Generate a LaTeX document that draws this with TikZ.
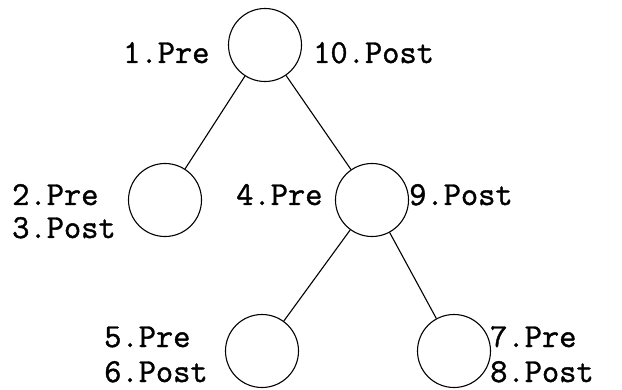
\documentclass[tikz,border=0pt]{standalone}
\usepackage{fontspec}
\newfontfamily\lblfont[FakeBold=1.2]{Latin Modern Mono}
\begin{document}
\begin{tikzpicture}[x=1pt,y=1pt,
  vertex/.style={draw, circle, line width=1.1pt, minimum size=73pt, inner sep=0pt},
  edge/.style={line width=1.1pt},
  lbl/.style={anchor=base west, inner sep=0pt, font=\lblfont\fontsize{33.5}{37}\selectfont}]
\useasboundingbox (0,0) rectangle (622,389);
% tree vertices
\node[vertex] (r)  at (265,344) {};
\node[vertex] (a)  at (165,189) {};
\node[vertex] (b)  at (372,189) {};
\node[vertex] (c)  at (262,38) {};
\node[vertex] (d)  at (454,38) {};
% tree edges
\draw[edge] (r) -- (a);
\draw[edge] (r) -- (b);
\draw[edge] (b) -- (c);
\draw[edge] (b) -- (d);
% visit order labels
\node[lbl] (l1)  at (123,326) {1.Pre};
\node[lbl] (l10) at (313,326) {10.Post};
\node[lbl] (l2)  at (12,184) {2.Pre};
\node[lbl] (l3)  at (12,151) {3.Post};
\node[lbl] (l4)  at (236,184) {4.Pre};
\node[lbl] (l9)  at (409,184) {9.Post};
\node[lbl] (l5)  at (104,42) {5.Pre};
\node[lbl] (l6)  at (104,7) {6.Post};
\node[lbl] (l7)  at (490,42) {7.Pre};
\node[lbl] (l8)  at (490,7) {8.Post};
\end{tikzpicture}
\end{document}
